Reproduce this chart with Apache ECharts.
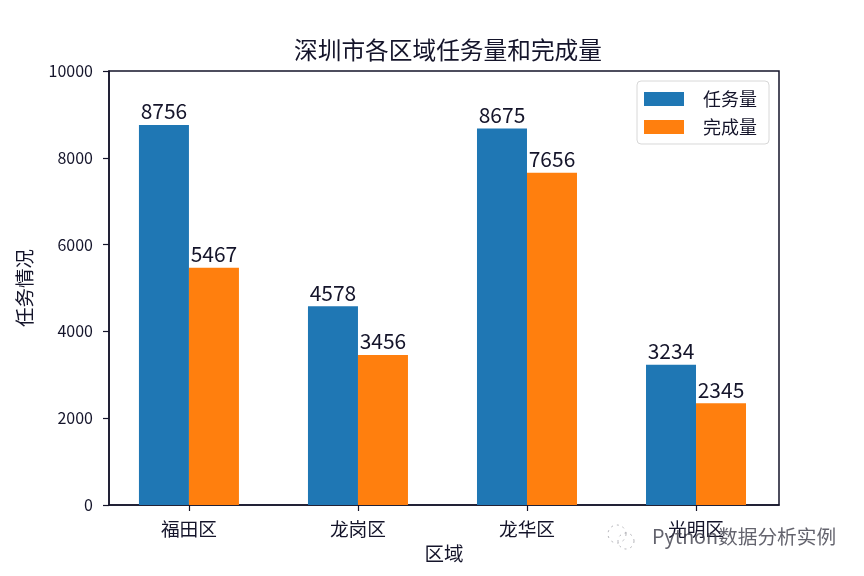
<!DOCTYPE html>
<html><head><meta charset="utf-8">
<style>html,body{margin:0;padding:0;background:#fff}#c{width:864px;height:576px}</style>
<script src="https://cdn.jsdelivr.net/npm/echarts@6/dist/echarts.min.js"></script>
</head><body><div id="c"></div>
<script>
const categories = ['福田区','龙岗区','龙华区','光明区'];
const taskValues = [8756,4578,8675,3234];
const doneValues = [5467,3456,7656,2345];
const FONT = '"Noto Sans CJK SC","Noto Sans",sans-serif';
const INK = '#14142a';
const positions = categories.map((_, i) => i);
const chart = echarts.init(document.getElementById('c'), null, {renderer:'canvas'});
const labelStyle = {show:true, position:'top', distance:3, fontSize:21, color:INK, fontFamily:FONT, formatter:p=>p.value[1]};
chart.setOption({
  animation:false,
  backgroundColor:'#fff',
  title:{text:'深圳市各区域任务量和完成量', left:289, top:33,
    textStyle:{fontSize:23.7, fontWeight:'normal', color:INK, fontFamily:FONT}},
  grid:{show:true, left:109, right:85, top:71, bottom:71, borderColor:INK, borderWidth:1.5, backgroundColor:'#fff'},
  legend:{right:95, top:81, orient:'vertical', icon:'rect', itemWidth:40, itemHeight:14, itemGap:10, padding:[9,12,8,7],
    backgroundColor:'#fff', borderColor:'#d8d8d8', borderWidth:1, borderRadius:4,
    textStyle:{fontSize:18, color:INK, fontFamily:FONT, padding:[0,0,0,14]},
    data:['任务量','完成量']},
  xAxis:{type:'value', min:-0.473, max:3.491, name:'区域', nameLocation:'middle', nameGap:39,
    nameTextStyle:{fontSize:19.5, color:INK, fontFamily:FONT},
    splitLine:{show:false},
    axisLine:{show:true, onZero:false, lineStyle:{color:INK, width:1.5}},
    axisTick:{show:true, length:6, customValues:positions, lineStyle:{color:INK, width:1.2}},
    axisLabel:{customValues:positions, margin:15, fontSize:18.7, color:INK, fontFamily:FONT,
      formatter:v => categories[Math.round(v)]}},
  yAxis:{type:'value', min:0, max:10000, interval:2000, name:'任务情况', nameLocation:'middle', nameGap:75,
    nameTextStyle:{fontSize:19.5, color:INK, fontFamily:FONT},
    splitLine:{show:false},
    axisLine:{show:true, onZero:false, lineStyle:{color:INK, width:1.5}},
    axisTick:{show:true, length:6, lineStyle:{color:INK, width:1.2}},
    axisLabel:{margin:16, fontSize:16, color:INK, fontFamily:FONT, formatter:v=>String(v)}},
  series:[
    {name:'任务量', type:'bar', barWidth:50, barGap:0, itemStyle:{color:'#1f77b4'},
      data:taskValues.map((v,i)=>[i,v]), encode:{x:0,y:1}, label:labelStyle},
    {name:'完成量', type:'bar', barWidth:50, itemStyle:{color:'#ff7f0e'},
      data:doneValues.map((v,i)=>[i,v]), encode:{x:0,y:1}, label:labelStyle}
  ],
  graphic:[
    {type:'circle', z:49, shape:{cx:617,cy:534,r:9}, style:{fill:'none', stroke:'rgba(120,120,130,0.55)', lineWidth:1, lineDash:[2,4]}},
    {type:'circle', z:49, shape:{cx:626,cy:541,r:8}, style:{fill:'none', stroke:'rgba(120,120,130,0.55)', lineWidth:1, lineDash:[2,4]}},
    {type:'text', left:652, top:527, z:50, style:{text:'Python数据分析实例', fontSize:19.7, fill:'rgba(60,60,72,0.8)', fontFamily:FONT}}
  ]
});
</script></body></html>
